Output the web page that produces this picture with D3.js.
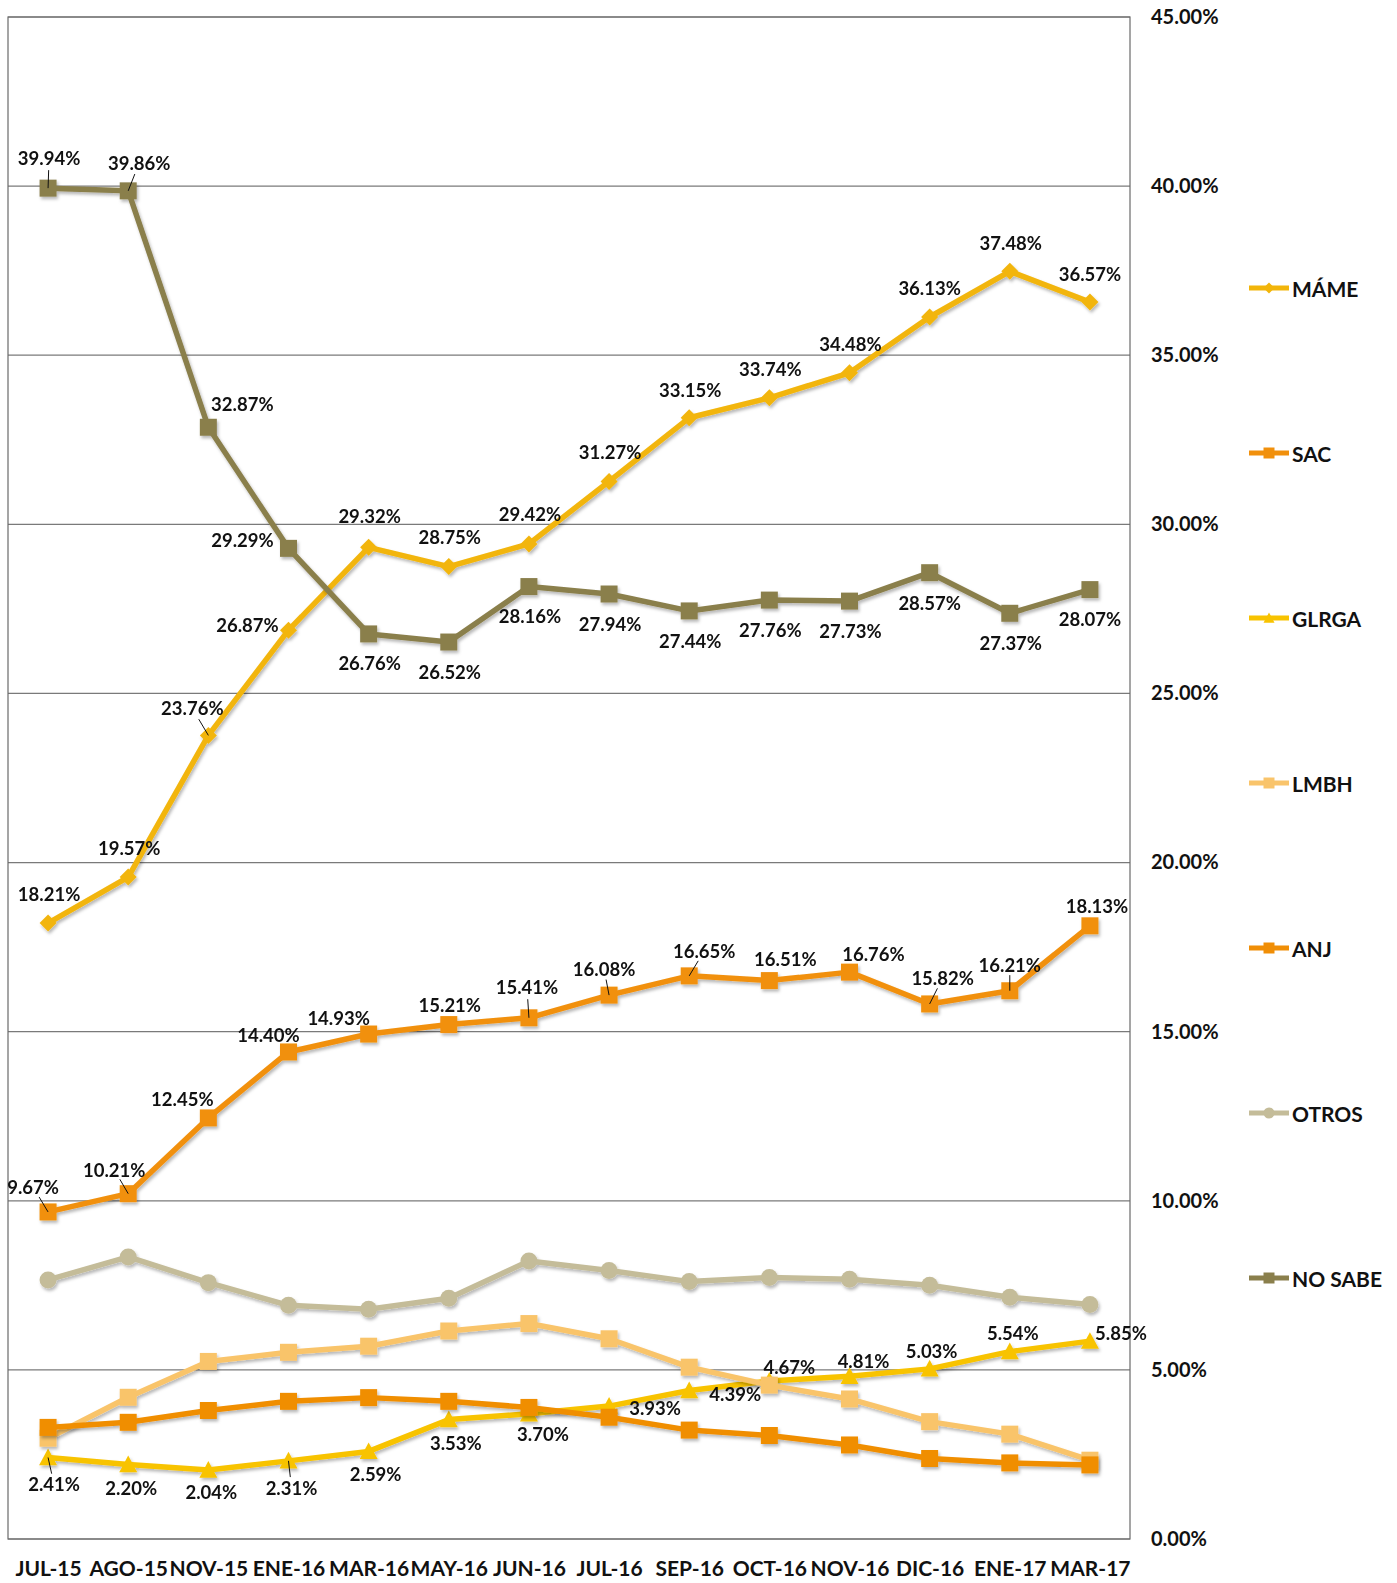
<!DOCTYPE html>
<html><head><meta charset="utf-8">
<script src="https://cdn.jsdelivr.net/npm/d3@7"></script>
<style>body{margin:0;background:#fff}</style>
</head><body>
<svg id="chart" width="1397" height="1583"></svg>
<script>
// ---------- data ----------
const categories = ["JUL-15","AGO-15","NOV-15","ENE-16","MAR-16","MAY-16","JUN-16","JUL-16","SEP-16","OCT-16","NOV-16","DIC-16","ENE-17","MAR-17"];
const mame   = [18.21,19.57,23.76,26.87,29.32,28.75,29.42,31.27,33.15,33.74,34.48,36.13,37.48,36.57];
const sac    = [9.67,10.21,12.45,14.40,14.93,15.21,15.41,16.08,16.65,16.51,16.76,15.82,16.21,18.13];
const glrga  = [2.41,2.20,2.04,2.31,2.59,3.53,3.70,3.93,4.39,4.67,4.81,5.03,5.54,5.85];
const lmbh   = [2.98,4.19,5.25,5.52,5.70,6.15,6.37,5.92,5.08,4.55,4.14,3.47,3.10,2.33];
const anj    = [3.30,3.45,3.80,4.07,4.18,4.07,3.89,3.60,3.22,3.06,2.78,2.38,2.25,2.19];
const otros  = [7.66,8.34,7.58,6.91,6.79,7.12,8.22,7.94,7.61,7.73,7.68,7.50,7.15,6.93];
const noSabe = [39.94,39.86,32.87,29.29,26.76,26.52,28.16,27.94,27.44,27.76,27.73,28.57,27.37,28.07];
const seriesNames = ["MÁME","SAC","GLRGA","LMBH","ANJ","OTROS","NO SABE"];
const yTicks = [0,5,10,15,20,25,30,35,40,45];

// ---------- layout / style (not data) ----------
const W = 1397, H = 1583;
const plot = {left: 8, right: 1130, top: 17, bottom: 1539};
const font = "Lato, 'Open Sans', sans-serif";

// label offsets [dx, dy] relative to the point, and leader-line flags
const offMame = [[1,-29],[1,-29],[-16,-27],[-41,-5],[1,-31],[1,-30],[1,-30],[1,-29],[1,-28],[1,-29],[1,-29],[0,-29],[1,-28],[0,-28]];
const leadMame = [0,0,1,0,0,0,0,0,0,0,0,0,0,0];
const offNoSabe = [[1,-30],[11,-28],[34,-23],[-46,-8],[1,29],[1,30],[1,29],[1,30],[1,30],[1,30],[1,30],[0,30],[1,30],[0,29]];
const leadNoSabe = [1,1,0,0,0,0,0,0,0,0,0,0,0,0];
const offSac = [[-15,-25],[-14,-24],[-26,-19],[-20,-17],[-30,-16],[1,-20],[-2,-31],[-5,-26],[15,-25],[16,-22],[24,-18],[13,-26],[0,-26],[7,-20]];
const leadSac = [1,1,0,0,0,0,1,1,1,0,0,1,1,0];
const offGlrga = [[6,27],[3,23],[3,22],[3,27],[7,23],[7,23],[14,20],[46,2],[46,3],[20,-14],[14,-15],[2,-18],[3,-19],[31,-8]];
const leadGlrga = [1,0,0,1,0,0,0,0,0,0,0,0,0,0];

const series = [
  {name: seriesNames[0], values: mame,   color: "#F2B50A", marker: "diamond",  size: 17, off: offMame,   lead: leadMame},
  {name: seriesNames[1], values: sac,    color: "#F1900C", marker: "square",   size: 17, off: offSac,    lead: leadSac},
  {name: seriesNames[2], values: glrga,  color: "#F8C300", marker: "triangle", size: 18, off: offGlrga,  lead: leadGlrga},
  {name: seriesNames[3], values: lmbh,   color: "#F9C46B", marker: "square",   size: 17, off: null,      lead: null},
  {name: seriesNames[4], values: anj,    color: "#F08E06", marker: "square",   size: 17, off: null,      lead: null},
  {name: seriesNames[5], values: otros,  color: "#C4BC99", marker: "circle",   size: 17, off: null,      lead: null},
  {name: seriesNames[6], values: noSabe, color: "#8A7F4C", marker: "square",   size: 17, off: offNoSabe, lead: leadNoSabe}
];

const svg = d3.select("#chart");
svg.append("rect").attr("width", W).attr("height", H).attr("fill", "#fff");

const defs = svg.append("defs");
const f = defs.append("filter").attr("id","shadow").attr("x","-20%").attr("y","-20%").attr("width","140%").attr("height","140%");
f.append("feDropShadow").attr("dx",1.5).attr("dy",2.5).attr("stdDeviation",1.5).attr("flood-color","#000").attr("flood-opacity",0.28);

const x = d3.scalePoint().domain(categories).range([plot.left, plot.right]).padding(0.5);
const y = d3.scaleLinear().domain([0, 45]).range([plot.bottom, plot.top]);

// gridlines
svg.append("g").selectAll("line").data(yTicks).join("line")
  .attr("x1", plot.left).attr("x2", plot.right)
  .attr("y1", d => y(d)).attr("y2", d => y(d))
  .attr("stroke", "#7a7a7a").attr("stroke-width", 1.2);
// plot border
svg.append("rect").attr("x", plot.left).attr("y", plot.top)
  .attr("width", plot.right - plot.left).attr("height", plot.bottom - plot.top)
  .attr("fill", "none").attr("stroke", "#6a6a6a").attr("stroke-width", 1.2);

// right axis
const yAxis = svg.append("g").attr("transform", `translate(${plot.right},0)`)
  .call(d3.axisRight(y).tickValues(yTicks).tickFormat(d => d.toFixed(2) + "%").tickSize(0).tickPadding(21));
yAxis.select(".domain").remove();
yAxis.selectAll("text").attr("font-family", font).attr("font-weight", "bold").attr("font-size", 20).attr("fill", "#111");

// bottom axis
const xAxis = svg.append("g").attr("transform", `translate(0,${plot.bottom})`)
  .call(d3.axisBottom(x).tickSize(0).tickPadding(22));
xAxis.select(".domain").remove();
xAxis.selectAll("text").attr("font-family", font).attr("font-weight", "bold").attr("font-size", 21).attr("fill", "#111");

function markerPath(type, s) {
  const h = s / 2;
  if (type === "square") return `M${-h},${-h}H${h}V${h}H${-h}Z`;
  if (type === "diamond") return `M0,${-h}L${h},0L0,${h}L${-h},0Z`;
  if (type === "triangle") return `M0,${-h}L${h},${h*0.85}L${-h},${h*0.85}Z`;
  if (type === "circle") return d3.arc()({innerRadius: 0, outerRadius: h, startAngle: 0, endAngle: 2*Math.PI});
  return "";
}

const line = d3.line().x(d => x(d.c)).y(d => y(d.v));

series.forEach(s => {
  const pts = s.values.map((v, i) => ({c: categories[i], v}));
  const g = svg.append("g").attr("filter", "url(#shadow)");
  g.append("path").datum(pts).attr("d", line)
    .attr("fill", "none").attr("stroke", s.color).attr("stroke-width", 5.5).attr("stroke-linejoin", "round");
  g.selectAll("path.m").data(pts).join("path").attr("class", "m")
    .attr("transform", d => `translate(${x(d.c)},${y(d.v)})`)
    .attr("d", markerPath(s.marker, s.size)).attr("fill", s.color);
});

// labels (drawn on top)
const lg = svg.append("g");
series.forEach(s => {
  if (!s.off) return;
  s.values.forEach((v, i) => {
    const px = x(categories[i]), py = y(v);
    const [dx, dy] = s.off[i];
    if (s.lead[i]) {
      lg.append("line").attr("x1", px).attr("y1", py)
        .attr("x2", px + dx * 0.6).attr("y2", py + dy * 0.6)
        .attr("stroke", "#111").attr("stroke-width", 1);
    }
    lg.append("text").attr("x", px + dx).attr("y", py + dy)
      .attr("text-anchor", "middle").attr("dominant-baseline", "central")
      .attr("font-family", font).attr("font-weight", "bold").attr("font-size", 18.5)
      .attr("fill", "#111").text(v.toFixed(2) + "%");
  });
});

// legend
const legY = d3.scalePoint().domain(seriesNames).range([288, 1278]);
const leg = svg.append("g");
series.forEach(s => {
  const gy = legY(s.name);
  const g = leg.append("g").attr("transform", `translate(1249,${gy})`);
  g.append("line").attr("x1", 0).attr("x2", 40).attr("stroke", s.color).attr("stroke-width", 5);
  g.append("path").attr("transform", "translate(20,0)").attr("d", markerPath(s.marker, 11)).attr("fill", s.color);
  g.append("text").attr("x", 43).attr("y", 0).attr("dominant-baseline", "central")
    .attr("font-family", font).attr("font-weight", "bold").attr("font-size", 21).attr("fill", "#111").text(s.name);
});
</script>
</body></html>
